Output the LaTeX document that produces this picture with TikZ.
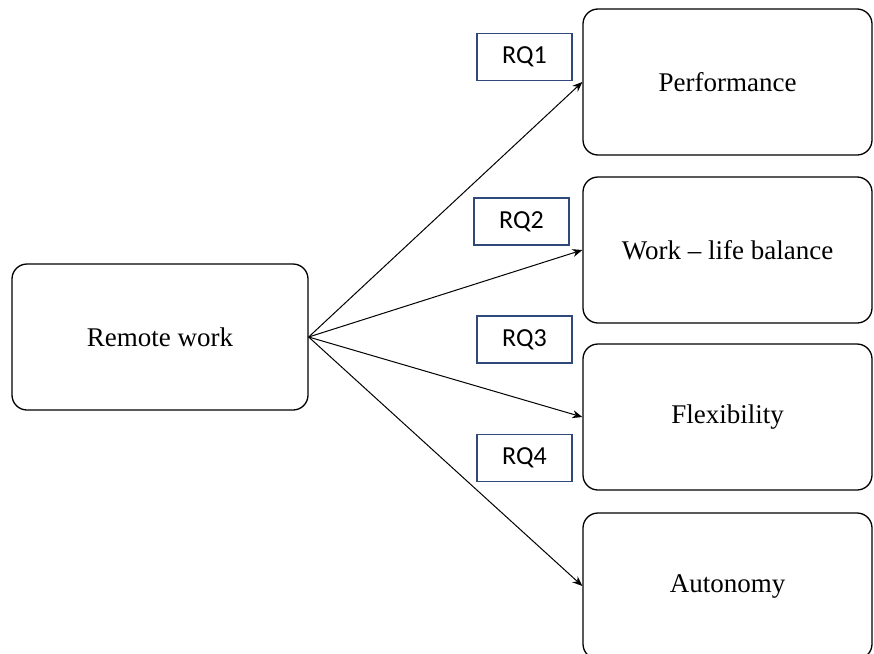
\documentclass[tikz,border=0pt]{standalone}
\usepackage{fontspec}
\setmainfont{Liberation Serif}
\newfontfamily\rqfont{Carlito}
\usetikzlibrary{arrows.meta}
\definecolor{rqblue}{HTML}{2F4A7A}
\begin{document}
\begin{tikzpicture}[x=1pt,y=-1pt,
  bigbox/.style={draw=black,line width=1.3pt,rounded corners=15pt,minimum width=289pt,minimum height=146pt,inner sep=0pt,font=\fontsize{27}{30}\selectfont},
  rqbox/.style={draw=rqblue,line width=1.2pt,minimum width=95pt,minimum height=47pt,inner sep=0pt,font=\rqfont\fontsize{26}{28}\selectfont},
  conn/.style={line width=1pt,-{Stealth[length=10pt,width=8pt]}}]
\clip (0,0) rectangle (874,653);
\useasboundingbox (0,0) rectangle (874,653);
\node[bigbox,minimum width=296pt] (rw) at (160,337) {Remote work};
\node[bigbox] (perf) at (727.5,82) {Performance};
\node[bigbox] (wlb) at (727.5,250) {Work -- life balance};
\node[bigbox] (flex) at (727.5,417) {Flexibility};
\node[bigbox] (aut) at (727.5,586) {Autonomy};
\node[rqbox] (rq1) at (524.5,57) {RQ1};
\node[rqbox] (rq2) at (521.5,221.5) {RQ2};
\node[rqbox] (rq3) at (524.5,339.5) {RQ3};
\node[rqbox] (rq4) at (524.5,458) {RQ4};
\draw[conn] (rw.east) -- (perf.west);
\draw[conn] (rw.east) -- (wlb.west);
\draw[conn] (rw.east) -- (flex.west);
\draw[conn] (rw.east) -- (aut.west);
\end{tikzpicture}
\end{document}
